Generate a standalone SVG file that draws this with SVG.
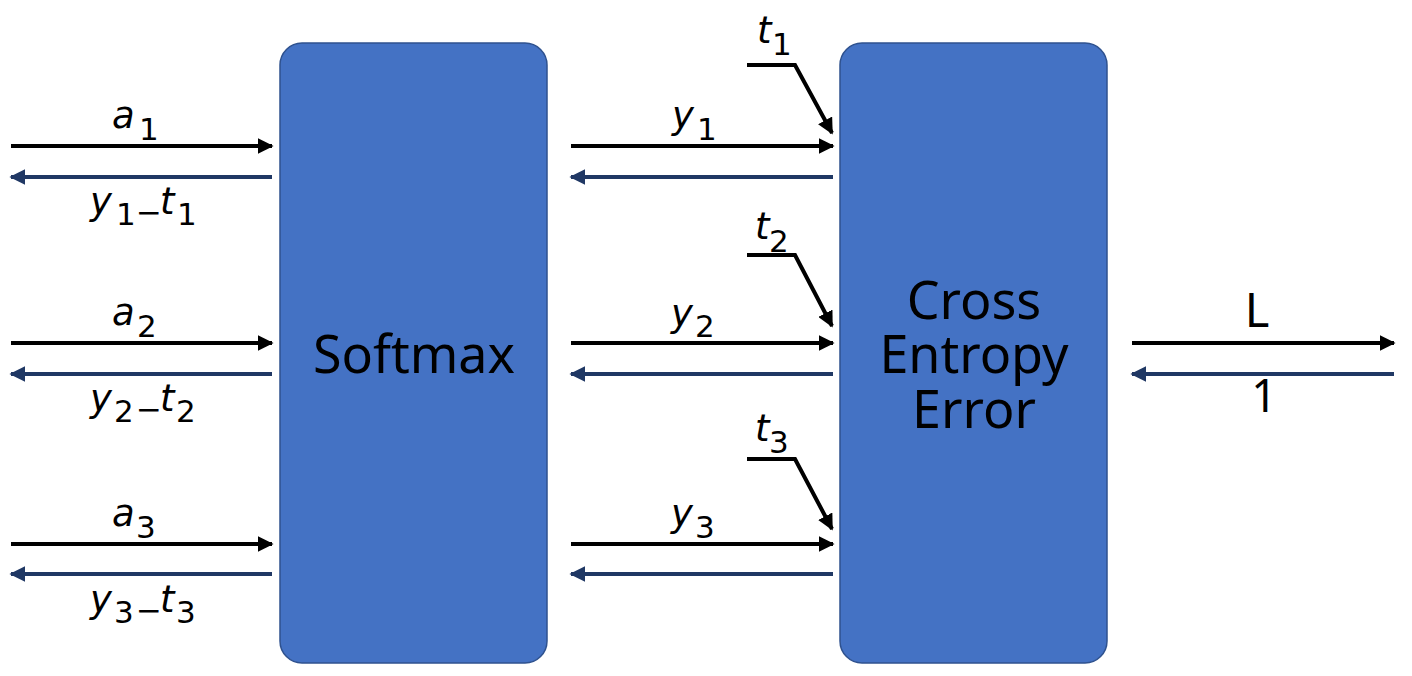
<svg xmlns="http://www.w3.org/2000/svg" width="1412" height="676" viewBox="0 0 1412 676">
<style>
.box{fill:#4472C4;stroke:#2F528F;stroke-width:1.5}
.fw{stroke:#000;stroke-width:4;fill:none}
.bw{stroke:#203864;stroke-width:4;fill:none}
.lbl{font-family:"DejaVu Sans","Noto Sans",sans-serif;font-size:37px;fill:#000}
.it{font-style:italic}
.sub{font-size:31px}
.big{font-family:"Noto Sans","DejaVu Sans",sans-serif;font-size:52px;fill:#000;text-anchor:middle}
.out{font-family:"Noto Sans","DejaVu Sans",sans-serif;font-size:47px;fill:#000;text-anchor:middle}
</style>
<defs>
<marker id="ah" viewBox="0 0 10 10" refX="9" refY="5" markerWidth="4" markerHeight="4" markerUnits="strokeWidth" orient="auto"><path d="M0,0 L10,5 L0,10 z" fill="#000"/></marker>
<marker id="ahb" viewBox="0 0 10 10" refX="9" refY="5" markerWidth="4" markerHeight="4" markerUnits="strokeWidth" orient="auto"><path d="M0,0 L10,5 L0,10 z" fill="#203864"/></marker>
</defs>
<rect width="1412" height="676" fill="#fff"/>
<g id="softmax">
<rect class="box" x="280" y="43" width="267" height="620" rx="22"/>
<text class="big" x="414" y="373">Softmax</text>
</g>
<g id="cee">
<rect class="box" x="840" y="43" width="267" height="620" rx="22"/>
<text class="big"><tspan x="974" y="319">Cross</tspan><tspan x="974" y="373">Entropy</tspan><tspan x="974" y="428">Error</tspan></text>
</g>
<g id="connectors">
<line class="fw" x1="11" y1="146" x2="272" y2="146" marker-end="url(#ah)"/>
<line class="bw" x1="272" y1="177" x2="11" y2="177" marker-end="url(#ahb)"/>
<line class="fw" x1="11" y1="343" x2="272" y2="343" marker-end="url(#ah)"/>
<line class="bw" x1="272" y1="374" x2="11" y2="374" marker-end="url(#ahb)"/>
<line class="fw" x1="11" y1="544" x2="272" y2="544" marker-end="url(#ah)"/>
<line class="bw" x1="272" y1="574" x2="11" y2="574" marker-end="url(#ahb)"/>
<line class="fw" x1="571" y1="146" x2="833" y2="146" marker-end="url(#ah)"/>
<line class="bw" x1="833" y1="177" x2="571" y2="177" marker-end="url(#ahb)"/>
<line class="fw" x1="571" y1="343" x2="833" y2="343" marker-end="url(#ah)"/>
<line class="bw" x1="833" y1="374" x2="571" y2="374" marker-end="url(#ahb)"/>
<line class="fw" x1="571" y1="544" x2="833" y2="544" marker-end="url(#ah)"/>
<line class="bw" x1="833" y1="574" x2="571" y2="574" marker-end="url(#ahb)"/>
<polyline class="fw" points="747,65 795,65 832,133" marker-end="url(#ah)"/>
<polyline class="fw" points="747,255 795,255 832,326" marker-end="url(#ah)"/>
<polyline class="fw" points="747,459 795,459 832,529" marker-end="url(#ah)"/>
<line class="fw" x1="1132" y1="343" x2="1394" y2="343" marker-end="url(#ah)"/>
<line class="bw" x1="1394" y1="374" x2="1132" y2="374" marker-end="url(#ahb)"/>
</g>
<g id="labels">
<text class="lbl"><tspan class="it" x="112" y="128">a</tspan><tspan class="sub" x="139" y="140">1</tspan></text>
<text class="lbl"><tspan class="it" x="90" y="214">y</tspan><tspan class="sub" x="116" y="225">1</tspan><tspan class="sub" x="136" y="223">−</tspan><tspan class="it" x="160" y="214">t</tspan><tspan class="sub" x="177" y="225">1</tspan></text>
<text class="lbl"><tspan class="it" x="112" y="325">a</tspan><tspan class="sub" x="137" y="337">2</tspan></text>
<text class="lbl"><tspan class="it" x="90" y="411">y</tspan><tspan class="sub" x="114" y="422">2</tspan><tspan class="sub" x="136" y="420">−</tspan><tspan class="it" x="160" y="411">t</tspan><tspan class="sub" x="176" y="422">2</tspan></text>
<text class="lbl"><tspan class="it" x="112" y="526">a</tspan><tspan class="sub" x="136" y="538">3</tspan></text>
<text class="lbl"><tspan class="it" x="90" y="612">y</tspan><tspan class="sub" x="114" y="623">3</tspan><tspan class="sub" x="136" y="621">−</tspan><tspan class="it" x="160" y="612">t</tspan><tspan class="sub" x="176" y="623">3</tspan></text>
<text class="lbl"><tspan class="it" x="672" y="128">y</tspan><tspan class="sub" x="697" y="140">1</tspan></text>
<text class="lbl"><tspan class="it" x="671" y="326">y</tspan><tspan class="sub" x="695" y="337">2</tspan></text>
<text class="lbl"><tspan class="it" x="671" y="526">y</tspan><tspan class="sub" x="695" y="538">3</tspan></text>
<text class="lbl"><tspan class="it" x="757" y="43">t</tspan><tspan class="sub" x="772" y="55">1</tspan></text>
<text class="lbl"><tspan class="it" x="755" y="239">t</tspan><tspan class="sub" x="769" y="252">2</tspan></text>
<text class="lbl"><tspan class="it" x="755" y="441">t</tspan><tspan class="sub" x="769" y="453">3</tspan></text>
<text class="out" x="1257" y="327">L</text>
<text class="out" x="1264" y="412" style="font-size:45px">1</text>
</g>
</svg>
